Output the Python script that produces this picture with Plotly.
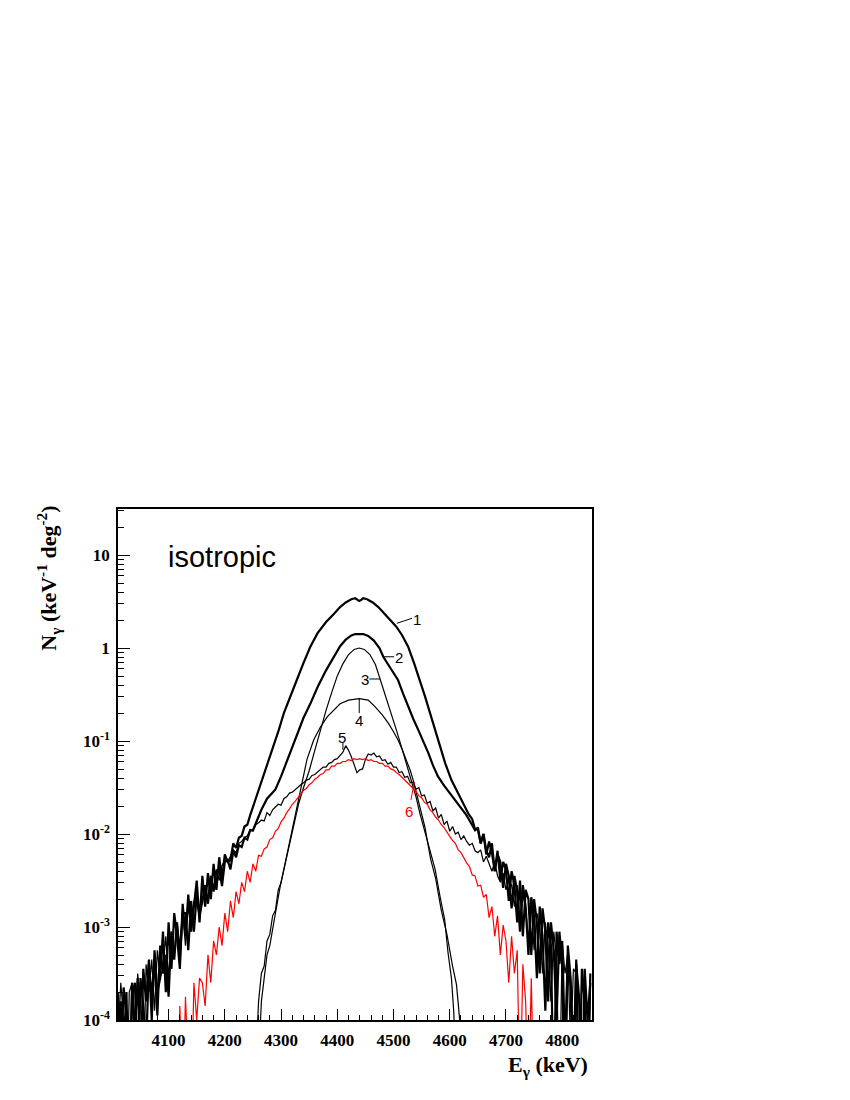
import plotly.graph_objects as go

# ---- data: energies (keV) and log10(N_gamma) ----
c1_e = (list(range(4010, 4250, 5))
        + [4255, 4266, 4277, 4287, 4296, 4305, 4316, 4328, 4340, 4352,
           4365, 4373, 4380, 4393, 4405, 4415, 4425, 4432, 4436, 4439,
           4442, 4446, 4453, 4463, 4473, 4485, 4495, 4505, 4515, 4526,
           4537, 4547, 4556, 4565, 4574, 4582, 4592, 4603, 4618, 4633]
        + list(range(4640, 4855, 5)))
c1_log = [-3.7, -4.5, -3.65, -3.95, -5, -3.6, -4.1, -3.55, -4.6, -3.45,
          -3.8, -3.35, -4.0, -3.25, -3.7, -3.55, -3.05, -3.7, -2.95, -3.45,
          -2.85, -3.1, -3.45, -2.75, -3.1, -2.65, -3.05, -2.8, -2.5, -2.95,
          -2.45, -2.78, -2.42, -2.7, -2.32, -2.6, -2.25, -2.48, -2.22, -2.3,
          -2.28, -2.1, -2.15, -2.04, -2.02, -1.92, -1.9, -1.8,
          -1.62, -1.42, -1.24, -1.06, -0.88, -0.70, -0.52, -0.344, -0.16, 0.014,
          0.16, 0.23, 0.28, 0.36, 0.44, 0.49, 0.525, 0.535, 0.52, 0.505,
          0.515, 0.535, 0.525, 0.49, 0.44, 0.36, 0.30, 0.23, 0.14, 0.014,
          -0.17, -0.344, -0.52, -0.70, -0.88, -1.06, -1.24, -1.42, -1.60, -1.78,
          -1.84, -1.95, -1.95, -2.1, -2.0, -2.22, -2.08, -2.2, -2.4, -2.18,
          -2.5, -2.3, -2.38, -2.72, -2.4, -2.55, -2.95, -2.5, -3.1, -2.6,
          -2.7, -3.3, -2.7, -2.95, -3.5, -2.8, -3.05, -3.8, -2.95, -3.25,
          -4.0, -3.05, -3.4, -5, -3.2, -3.55, -4.5, -3.35, -5, -3.45,
          -3.8, -5, -3.5]

c2_e = (list(range(4010, 4270, 5))
        + [4275, 4290, 4300, 4310, 4320, 4330, 4340, 4352, 4365, 4380,
           4393, 4405, 4415, 4425, 4432, 4439, 4446, 4455, 4465, 4475,
           4482, 4495, 4508, 4517, 4526, 4535, 4544, 4553, 4562, 4570,
           4579, 4590, 4600, 4609, 4620, 4630, 4638]
        + list(range(4645, 4855, 5)))
c2_log = [-5, -3.8, -4.3, -3.7, -5, -3.75, -3.6, -4.5, -3.55, -3.85,
          -4.3, -3.4, -3.75, -3.35, -3.95, -3.2, -3.5, -3.3, -3.75, -3.05,
          -3.35, -2.95, -3.35, -2.85, -2.85, -3.25, -2.72, -3.05, -2.65, -2.88,
          -2.72, -2.55, -2.75, -2.45, -2.62, -2.4, -2.38, -2.56, -2.3, -2.28,
          -2.38, -2.18, -2.25, -2.12, -2.14, -2.04, -2.06, -1.96, -1.96, -1.88,
          -1.82, -1.74,
          -1.62, -1.52, -1.38, -1.22, -1.06, -0.9, -0.75, -0.6, -0.42, -0.24,
          -0.1, 0.02, 0.09, 0.135, 0.15, 0.152, 0.15, 0.13, 0.08, 0.0,
          -0.097, -0.22, -0.344, -0.49, -0.63, -0.76, -0.88, -1.0, -1.13, -1.26,
          -1.38, -1.48, -1.56, -1.63, -1.72, -1.8, -1.885,
          -1.96, -1.93, -2.1, -2.0, -2.18, -2.25, -2.1, -2.4, -2.22, -2.3,
          -2.58, -2.32, -2.45, -2.8, -2.45, -2.62, -3.05, -2.55, -2.78, -3.3,
          -2.68, -2.9, -3.55, -2.78, -3.1, -3.9, -2.95, -3.2, -5, -3.05,
          -3.4, -3.15, -4.3, -3.3, -3.65, -5, -3.4, -3.75, -5, -3.45,
          -4.0, -3.6]

c3_e = [4257, 4260, 4265, 4270, 4275, 4280, 4285, 4290, 4295, 4300,
        4307, 4315, 4322, 4331, 4340, 4350, 4360, 4370, 4380, 4390,
        4400, 4410, 4420, 4430, 4439, 4448, 4458, 4468, 4476, 4486,
        4496, 4505, 4514, 4523, 4532, 4540, 4547, 4556, 4565, 4574,
        4583, 4591, 4597, 4603, 4607, 4610]
c3_log = [-4.2, -3.8, -3.5, -3.42, -3.15, -3.08, -2.88, -2.82, -2.6, -2.52,
          -2.33, -2.12, -1.9, -1.68, -1.5, -1.32, -1.1, -0.88, -0.67, -0.48,
          -0.3, -0.17, -0.07, -0.015, 0.0, -0.015, -0.07, -0.18, -0.33, -0.5,
          -0.70, -0.88, -1.06, -1.24, -1.42, -1.6, -1.78, -1.98, -2.2, -2.38,
          -2.68, -2.92, -3.28, -3.55, -3.9, -4.3]

c4_e = [4262, 4265, 4270, 4275, 4280, 4285, 4290, 4298, 4307, 4316,
        4325, 4335, 4346, 4358, 4370, 4382, 4395, 4405, 4420, 4439,
        4455, 4467, 4480, 4491, 4500, 4508, 4516, 4523, 4530, 4535,
        4545, 4556, 4566, 4575, 4585, 4595, 4605, 4612, 4617, 4622]
c4_log = [-4.2, -3.8, -3.55, -3.3, -3.2, -3.0, -2.85, -2.58, -2.32, -2.05,
          -1.8, -1.52, -1.2, -0.99, -0.85, -0.74, -0.66, -0.6, -0.56, -0.545,
          -0.56, -0.63, -0.72, -0.81, -0.9, -0.99, -1.1, -1.2, -1.32, -1.42,
          -1.65, -1.93, -2.27, -2.48, -2.82, -3.08, -3.42, -3.62, -3.95, -4.3]

c5_e = list(range(4010, 4855, 5))
c5_log = [-4.2, -3.6, -4.0, -5, -3.7, -3.6, -4.4, -3.5, -3.8, -4.8,
          -3.4, -3.7, -3.35, -3.9, -3.25, -3.55, -3.45, -3.1, -3.55, -3.05,
          -3.3, -2.95, -3.2, -2.85, -3.2, -2.78, -2.98, -2.72, -2.68, -2.92,
          -2.58, -2.62, -2.72, -2.45, -2.6, -2.38, -2.5, -2.34, -2.28, -2.3,
          -2.24, -2.17, -2.2, -2.1, -2.08, -2.04, -2.02, -1.95, -1.97, -1.9,
          -1.88, -1.85, -1.86, -1.77, -1.8, -1.74, -1.71, -1.68, -1.69, -1.62,
          -1.6, -1.56, -1.55, -1.52, -1.5, -1.47, -1.45, -1.42, -1.41, -1.37,
          -1.36, -1.33, -1.31, -1.28, -1.28, -1.24, -1.23, -1.2, -1.19, -1.15,
          -1.12, -1.05, -1.1, -1.17, -1.25, -1.34, -1.31, -1.3, -1.2, -1.14,
          -1.15, -1.13, -1.17, -1.16, -1.21, -1.2, -1.25, -1.23, -1.28, -1.28,
          -1.34, -1.33, -1.39, -1.38, -1.45, -1.44, -1.52, -1.5, -1.59, -1.58,
          -1.67, -1.65, -1.75, -1.72, -1.83, -1.79, -1.9, -1.86, -1.97, -1.92,
          -2.0, -1.98, -2.06, -2.02, -2.08, -2.12, -2.1, -2.18, -2.2, -2.17,
          -2.3, -2.24, -2.32, -2.4, -2.3, -2.45, -2.52, -2.42, -2.6, -2.5,
          -2.55, -2.78, -2.55, -2.95, -2.65, -2.8, -3.15, -2.75, -3.25, -2.85,
          -3.0, -3.5, -2.95, -3.2, -3.8, -3.05, -3.35, -5, -3.15, -3.5,
          -3.3, -4.3, -3.45, -3.5, -5, -3.55, -3.8, -5, -3.7]

c6_e = list(range(4115, 4760, 5))
c6_log = [-5, -3.85, -5, -3.75, -4.5, -5, -3.6, -4.0, -3.55, -3.6,
          -3.85, -3.3, -3.6, -3.15, -3.3, -3.0, -3.2, -2.85, -3.05, -2.72,
          -2.9, -2.62, -2.75, -2.52, -2.62, -2.4, -2.52, -2.32, -2.4, -2.23,
          -2.24, -2.16, -2.14, -2.06, -2.04, -1.97, -1.94, -1.87, -1.83, -1.77,
          -1.73, -1.68, -1.65, -1.61, -1.58, -1.53, -1.51, -1.47, -1.45, -1.41,
          -1.39, -1.36, -1.35, -1.31, -1.31, -1.27, -1.27, -1.24, -1.24, -1.22,
          -1.22, -1.2, -1.21, -1.19, -1.2, -1.19, -1.2, -1.19, -1.21, -1.2,
          -1.22, -1.22, -1.24, -1.24, -1.27, -1.27, -1.3, -1.31, -1.34, -1.36,
          -1.39, -1.42, -1.45, -1.48, -1.52, -1.54, -1.59, -1.61, -1.66, -1.68,
          -1.74, -1.77, -1.82, -1.85, -1.9, -1.93, -1.98, -2.03, -2.07, -2.1,
          -2.17, -2.2, -2.26, -2.31, -2.35, -2.44, -2.45, -2.56, -2.55, -2.68,
          -2.65, -2.9, -2.78, -3.1, -2.88, -3.3, -2.98, -3.15, -3.6, -3.1,
          -3.5, -3.25, -5, -3.4, -3.8, -5, -3.55, -5, -5]

y_tickvals = [1e-4, 1e-3, 1e-2, 1e-1, 1, 10]
y_ticktext = ["10<sup>-4</sup>", "10<sup>-3</sup>", "10<sup>-2</sup>",
              "10<sup>-1</sup>", "1", "10"]
x_tickvals = [4100, 4200, 4300, 4400, 4500, 4600, 4700, 4800]

curve_labels = ["1", "2", "3", "4", "5", "6"]

SERIF = "Liberation Serif"
SANS = "Liberation Sans"
RED = "#ff0000"


def lin(vals):
    return [10 ** v for v in vals]


fig = go.Figure()
for e, lg, w, col in [(c1_e, c1_log, 2.2, "black"),
                      (c2_e, c2_log, 2.2, "black"),
                      (c3_e, c3_log, 1.2, "black"),
                      (c4_e, c4_log, 1.2, "black"),
                      (c5_e, c5_log, 1.2, "black"),
                      (c6_e, c6_log, 1.2, RED)]:
    fig.add_trace(go.Scatter(x=e, y=lin(lg), mode="lines",
                             line=dict(color=col, width=w), showlegend=False,
                             hoverinfo="skip"))

# curve labels (annotation y in log10 units) and leader lines
lab_pos = [(4541, 0.312), (4510, -0.104), (4449, -0.337),
           (4439, -0.78), (4408, -0.957), (4527, -1.763)]
leaders = [(4506, 0.266, 4533, 0.32), (4482, -0.094, 4501, -0.094),
           (4457, -0.333, 4476, -0.333), (4439, -0.54, 4439, -0.70),
           (4410, -1.02, 4410, -1.095), (4531, -1.634, 4537, -1.44)]
annotations = []
shapes = []
for i, txt in enumerate(curve_labels):
    col = RED if txt == "6" else "black"
    annotations.append(dict(x=lab_pos[i][0], y=lab_pos[i][1], xref="x", yref="y",
                            text=txt, showarrow=False,
                            font=dict(family=SANS, size=15, color=col)))
    x0, y0, x1, y1 = leaders[i]
    shapes.append(dict(type="line", xref="x", yref="y",
                       x0=x0, y0=10 ** y0, x1=x1, y1=10 ** y1,
                       line=dict(color=col, width=1)))

annotations.append(dict(x=4096, y=0.982, xref="x", yref="y", text="isotropic",
                        xanchor="left", yanchor="middle", showarrow=False,
                        font=dict(family=SANS, size=29, color="black")))
annotations.append(dict(x=-0.147, y=1.01, xref="paper", yref="paper",
                        text="<b>N<sub>γ</sub> (keV<sup>-1</sup> deg<sup>-2</sup>)</b>",
                        textangle=-90, xanchor="center", yanchor="top",
                        showarrow=False,
                        font=dict(family=SERIF, size=22, color="black")))
annotations.append(dict(x=0.996, y=-0.09, xref="paper", yref="paper",
                        text="<b>E<sub>γ</sub> (keV)</b>",
                        xanchor="right", yanchor="middle", showarrow=False,
                        font=dict(family=SERIF, size=22, color="black")))

minor_y = [m * 10 ** d for d in range(-4, 2) for m in range(2, 10)]

fig.update_xaxes(range=[4010, 4853], tickvals=x_tickvals, ticks="inside",
                 ticklen=11, tickcolor="black", tickwidth=1,
                 minor=dict(dtick=20, tick0=4000, ticks="inside", ticklen=5,
                            tickcolor="black", tickwidth=1, showgrid=False),
                 showline=True, linecolor="black", linewidth=1.5, mirror=True,
                 showgrid=False, zeroline=False, ticklabelstandoff=4,
                 tickfont=dict(family=SERIF, size=17, color="black", weight="bold"))
fig.update_yaxes(type="log", range=[-4, 1.495], tickvals=y_tickvals,
                 ticktext=y_ticktext, ticks="inside", ticklen=12,
                 tickcolor="black", tickwidth=1,
                 minor=dict(tickvals=minor_y, ticks="inside", ticklen=6,
                            tickcolor="black", tickwidth=1, showgrid=False),
                 showline=True, linecolor="black", linewidth=1.5, mirror=True,
                 showgrid=False, zeroline=False, ticklabelstandoff=3,
                 tickfont=dict(family=SERIF, size=17, color="black", weight="bold"))
# the page body adds an 8 px offset, so the margins are shifted to match
fig.update_layout(width=850, height=1100,
                  margin=dict(l=110, r=266, t=501, b=88),
                  paper_bgcolor="white", plot_bgcolor="white",
                  annotations=annotations, shapes=shapes, showlegend=False)

fig.write_html("out.html")
